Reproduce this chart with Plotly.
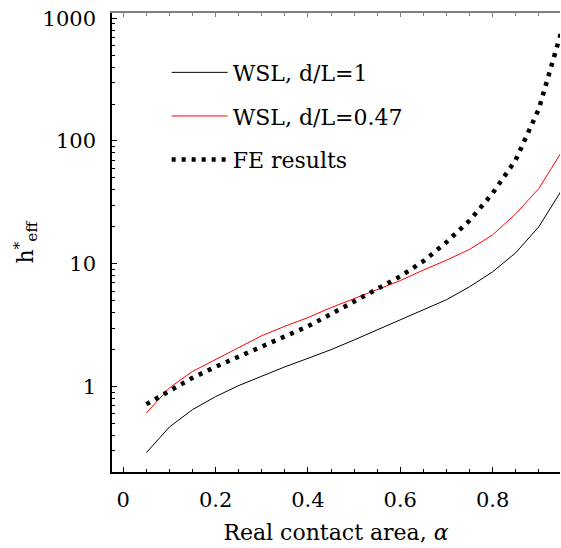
import plotly.graph_objects as go

alpha = [0.05, 0.10, 0.15, 0.20, 0.25, 0.30, 0.35, 0.40, 0.45, 0.50,
         0.55, 0.60, 0.65, 0.70, 0.75, 0.80, 0.85, 0.90, 0.95]
wsl_1 = [0.29, 0.47, 0.65, 0.83, 1.02, 1.22, 1.45, 1.70, 2.00, 2.40,
         2.90, 3.50, 4.20, 5.10, 6.50, 8.60, 12.3, 20.0, 40.0]
wsl_047 = [0.61, 0.98, 1.33, 1.66, 2.08, 2.60, 3.10, 3.65, 4.40, 5.20,
           6.20, 7.30, 8.90, 10.7, 13.1, 17.2, 25.5, 41.0, 82.0]
fe = [0.72, 0.93, 1.18, 1.45, 1.75, 2.15, 2.60, 3.10, 3.90, 4.90,
      6.20, 7.90, 10.5, 15.0, 22.5, 37.5, 70.0, 182.0, 800.0]

names = ["WSL, d/L=1", "WSL, d/L=0.47", "FE results"]
x_ticks = [0, 0.2, 0.4, 0.6, 0.8]
x_ticktext = ["0", "0.2", "0.4", "0.6", "0.8"]
y_ticks = [1, 10, 100, 1000]
y_ticktext = ["1", "10", "100", "1000"]
y_minor = [m * 10 ** e for e in range(-1, 3) for m in range(2, 10)]
y_title = "h<sup>*</sup><sub>eff</sub>"

FONT = "DejaVu Serif"

fig = go.Figure()
fig.add_trace(go.Scatter(x=alpha, y=wsl_1, mode="lines", name=names[0],
                         line=dict(color="black", width=1), legendgroup="a"))
fig.add_trace(go.Scatter(x=alpha, y=wsl_047, mode="lines", name=names[1],
                         line=dict(color="red", width=1), legendgroup="b"))
fig.add_trace(go.Scatter(x=alpha, y=fe, mode="lines", name=names[2],
                         line=dict(color="black", width=4.5, dash="4px,6px"),
                         legendgroup="c"))
fig.add_trace(go.Scatter(x=[None], y=[None], xaxis="x2", showlegend=False,
                         hoverinfo="skip"))

xr = [-0.0245, 0.946]
fig.update_layout(
    width=561, height=548,
    margin=dict(l=112, r=1, t=13, b=76, autoexpand=False),
    paper_bgcolor="white", plot_bgcolor="white",
    font=dict(family=FONT, size=21, color="black"),
    showlegend=True,
    legend=dict(x=0.122, y=0.916, xanchor="left", yanchor="top",
                font=dict(family=FONT, size=22), bgcolor="rgba(0,0,0,0)",
                tracegroupgap=12, itemwidth=56),
    xaxis=dict(range=xr, showgrid=False, zeroline=False, automargin=False,
               showline=True, linecolor="black", linewidth=1.5,
               ticks="inside", ticklen=5, tickcolor="black",
               tickvals=x_ticks, ticktext=x_ticktext,
               tickfont=dict(family=FONT, size=21),
               minor=dict(ticks="inside", ticklen=3, dtick=0.05, tick0=0,
                          tickcolor="black", showgrid=False),
               ticklabelstandoff=8,
               title=dict(text="Real contact area, <i>α</i>", standoff=14,
                          font=dict(family=FONT, size=22))),
    xaxis2=dict(range=xr, overlaying="x", side="top", anchor="y",
                automargin=False,
                showgrid=False, zeroline=False, showline=True,
                linecolor="#808080", linewidth=2,
                ticks="inside", ticklen=4, tickcolor="#808080",
                tickvals=x_ticks, showticklabels=False,
                minor=dict(ticks="inside", ticklen=3, dtick=0.05, tick0=0,
                           tickcolor="#808080", showgrid=False)),
    yaxis=dict(type="log", range=[-0.695, 3.042], showgrid=False,
               automargin=False,
               zeroline=False, showline=True, linecolor="black", linewidth=1.5,
               ticks="inside", ticklen=5, tickcolor="black",
               tickvals=y_ticks, ticktext=y_ticktext,
               tickfont=dict(family=FONT, size=21),
               minor=dict(ticks="inside", ticklen=3, tickvals=y_minor,
                          tickcolor="black", showgrid=False),
               ticklabelstandoff=10),
    annotations=[dict(text=y_title, xref="paper", yref="paper",
                      x=-0.194, y=0.5, xanchor="center", yanchor="middle",
                      textangle=-90, showarrow=False,
                      font=dict(family=FONT, size=22))],
)

fig.write_html("out.html")
